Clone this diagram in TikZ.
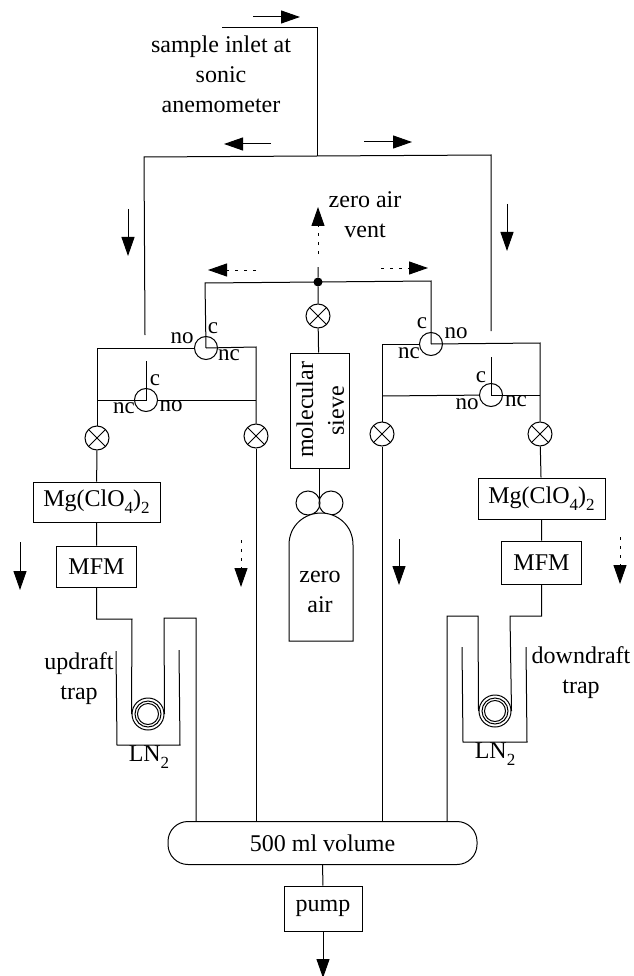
\documentclass[tikz,border=0pt]{standalone}
\usepackage{fontspec}
\setmainfont{Liberation Serif}
\usetikzlibrary{arrows.meta,positioning}
\newcommand{\lowsub}[1]{\raisebox{-0.3em}{\fontsize{17}{17}\selectfont #1}}
\tikzset{
  pipe/.style={line width=1pt},
  flow/.style={-{Triangle[length=19pt,width=13pt]}, line width=1pt},
  dotflow/.style={flow, dash pattern=on 3pt off 6pt},
  box/.style={
    rectangle, draw, line width=1pt, inner sep=0pt,
    font=\fontsize{24}{28}\selectfont
  },
  lab/.style={inner sep=0pt, align=center, font=\fontsize{24}{30}\selectfont},
  port/.style={inner sep=0pt, font=\fontsize{23}{24}\selectfont},
  xvalve/.style={
    circle, draw, line width=1pt, minimum size=24pt, inner sep=0pt,
    path picture={\draw[line width=1pt] (path picture bounding box.north west) -- (path picture bounding box.south east)
      (path picture bounding box.north east) -- (path picture bounding box.south west);}
  },
  switch/.style={circle, draw, line width=1pt, minimum size=23pt, inner sep=0pt},
  coil/.style={
    circle, draw, line width=1pt, minimum size=32pt, inner sep=0pt,
    path picture={\draw[line width=1pt] (path picture bounding box.center) circle (13pt) circle (10.5pt);}
  },
}
\begin{document}
\begin{tikzpicture}[x=1pt,y=-1pt]
\useasboundingbox (0,0) rectangle (633,976);
% --- Valves ---
\node[xvalve] (vZero) at (318,316) {};
\node[xvalve] (vLa) at (97,438) {};
\node[xvalve] (vLb) at (256,436) {};
\node[xvalve] (vRa) at (382,434) {};
\node[xvalve] (vRb) at (540,434) {};
\node[switch] (swLa) at (206,348) {};
\node[switch] (swLb) at (146,400) {};
\node[switch] (swRa) at (431,344) {};
\node[switch] (swRb) at (491,395) {};
% --- Boxes ---
\node[box, minimum width=127pt, minimum height=40pt] (mgL) at (96.5,502) {Mg(ClO\lowsub{4})\lowsub{2}};
\node[box, minimum width=80pt, minimum height=41pt, below=23pt of mgL] (mfmL) {MFM};
\node[box, minimum width=127pt, minimum height=41pt] (mgR) at (541.5,498.5) {Mg(ClO\lowsub{4})\lowsub{2}};
\node[box, minimum width=80pt, minimum height=43pt, below=21pt of mgR] (mfmR) {MFM};
\node[box, minimum width=59pt, minimum height=115pt] (sieve) at (319.5,410.5) {};
\node[lab, rotate=90] (molec) at (305,410) {molecular};
\node[lab, rotate=90] (sv) at (336,411) {sieve};
\node[box, minimum width=309pt, minimum height=43pt, rounded corners=20pt] (vol) at (322.5,843) {500 ml volume};
\node[box, minimum width=78pt, minimum height=45pt] (pump) at (323,908.5) {pump};
% --- Zero air bottle ---
\node[circle, draw, line width=1pt, minimum size=24pt, inner sep=0pt] (regL) at (308,503) {};
\node[circle, draw, line width=1pt, minimum size=24pt, inner sep=0pt] (regR) at (331,503) {};
\coordinate (regTop) at (319.5,500);
\draw[pipe] (sieve) -- (regTop);
\draw[pipe, fill=white] (289,641) -- (289,545) .. controls (289,525) and (305,513) .. (321,513)
  .. controls (337,513) and (353,525) .. (353,545) -- (353,641) -- cycle;
\node[lab] (zeroair) at (320,592) {zero\\air};
% --- Traps ---
\node[coil] (coilL) at (148,714) {};
\node[coil] (coilR) at (495,711) {};
\coordinate (dewLa) at (116,651); \coordinate (dewLb) at (117,745); \coordinate (dewLc) at (180,745); \coordinate (dewLd) at (179,650);
\coordinate (dewRa) at (462,647); \coordinate (dewRb) at (463,742); \coordinate (dewRc) at (527,742); \coordinate (dewRd) at (526,647);
\draw[pipe] (dewLa) -- (dewLb) -- (dewLc) -- (dewLd);
\draw[pipe] (dewRa) -- (dewRb) -- (dewRc) -- (dewRd);
% --- Inlet and main line ---
\coordinate (inA) at (222,28); \coordinate (inB) at (317,28); \coordinate (tee) at (317,156);
\coordinate (mainL) at (144,157); \coordinate (mainR) at (491,155);
\coordinate (endL) at (145,335); \coordinate (endR) at (491,331);
\coordinate (stubL) at (146,361); \coordinate (stubR) at (491,357);
\draw[pipe] (inA) -- (inB) -- (tee);
\draw[pipe] (endL) -- (mainL) -- (tee) -- (mainR) -- (endR);
% --- Zero air line ---
\node[circle, fill=black, inner sep=0pt, minimum size=9pt] (junc) at (318,282) {};
\coordinate (zeroL) at (205,283); \coordinate (zeroR) at (431,281); \coordinate (ventTop) at (318,267);
\draw[pipe] (swLa.center) -- (zeroL) -- (junc.center) -- (zeroR) -- (swRa.center);
\draw[pipe] (ventTop) -- (junc) -- (vZero) -- (sieve);
% --- Left switching loop ---
\coordinate (loopLa) at (97,348); \coordinate (loopLb) at (97,400); \coordinate (loopLc) at (256,347); \coordinate (loopLd) at (256,400);
\draw[pipe] (swLa) -- (loopLa) -- (vLa);
\draw[pipe] (swLa.center) -- (loopLc) -- (vLb);
\draw[pipe] (stubL) -- (swLb.center) -- (loopLb);
\draw[pipe] (swLb) -- (loopLd);
% --- Right switching loop ---
\coordinate (loopRa) at (382,344); \coordinate (loopRb) at (382,396); \coordinate (loopRc) at (540,343); \coordinate (loopRd) at (540,395);
\draw[pipe] (swRa) -- (loopRa) -- (vRa);
\draw[pipe] (swRa.center) -- (loopRc) -- (vRb);
\draw[pipe] (stubR) -- (swRb.center) -- (loopRd);
\draw[pipe] (swRb) -- (loopRb);
% --- Columns down to the volume ---
\coordinate (tubeLa) at (132,619); \coordinate (tubeLb) at (164,618); \coordinate (tubeLc) at (196,618);
\coordinate (tubeRa) at (510,616); \coordinate (tubeRb) at (478,616); \coordinate (tubeRc) at (447,616);
\draw[pipe] (vLa) -- (mgL) -- (mfmL);
\draw[pipe] (mfmL) |- (tubeLa) -- (coilL.west);
\draw[pipe] (coilL.east) -- (tubeLb) -- (tubeLc) -- (tubeLc |- vol.north);
\draw[pipe] (vRb) -- (mgR) -- (mfmR);
\draw[pipe] (mfmR) |- (tubeRa) -- (coilR.east);
\draw[pipe] (coilR.west) -- (tubeRb) -- (tubeRc) -- (tubeRc |- vol.north);
\draw[pipe] (vLb) -- (vLb |- vol.north);
\draw[pipe] (vRa) -- (vRa |- vol.north);
\coordinate (outEnd) at (323,978);
\draw[pipe] (vol) -- (pump);
\draw[flow] (pump) -- (outEnd);
% --- Flow marks ---
\coordinate (fa) at (253,17); \coordinate (fb) at (300,17);
\coordinate (fc) at (271,144); \coordinate (fd) at (224,144);
\coordinate (fe) at (364,142); \coordinate (ff) at (412,142);
\coordinate (fg) at (128,209); \coordinate (fh) at (128,256);
\coordinate (fi) at (507,204); \coordinate (fj) at (507,251);
\coordinate (fk) at (20,542); \coordinate (fl) at (20,590);
\coordinate (fm) at (399,539); \coordinate (fn) at (399,585);
\draw[flow] (fa) -- (fb);
\draw[flow] (fc) -- (fd);
\draw[flow] (fe) -- (ff);
\draw[flow] (fg) -- (fh);
\draw[flow] (fi) -- (fj);
\draw[flow] (fk) -- (fl);
\draw[flow] (fm) -- (fn);
\coordinate (da) at (318,254); \coordinate (db) at (318,207);
\coordinate (dc) at (256,270); \coordinate (dd) at (208,270);
\coordinate (de) at (381,268); \coordinate (df) at (428,268);
\coordinate (dg) at (241,540); \coordinate (dh) at (241,587);
\coordinate (di) at (620,537); \coordinate (dj) at (620,584);
\draw[dotflow] (da) -- (db);
\draw[dotflow] (dc) -- (dd);
\draw[dotflow] (de) -- (df);
\draw[dotflow] (dg) -- (dh);
\draw[dotflow] (di) -- (dj);
% --- Labels ---
\node[lab] (inletlab) at (221,74) {sample inlet at\\sonic\\anemometer};
\node[lab] (ventlab) at (365,215) {zero air\\vent};
\node[lab] (uplab) at (79,679) {updraft\\trap};
\node[lab] (downlab) at (581,673) {downdraft\\trap};
\node[lab] (lnL) at (149,757) {LN\lowsub{2}};
\node[lab] (lnR) at (495,754) {LN\lowsub{2}};
\node[port] (pLaC) at (213,328) {c};
\node[port] (pLaNo) at (182,338) {no};
\node[port] (pLaNc) at (229,355) {nc};
\node[port] (pLbC) at (155,380) {c};
\node[port] (pLbNc) at (124,408) {nc};
\node[port] (pLbNo) at (171,406) {no};
\node[port] (pRaC) at (422,323) {c};
\node[port] (pRaNo) at (456,333) {no};
\node[port] (pRaNc) at (409,353) {nc};
\node[port] (pRbC) at (481,377) {c};
\node[port] (pRbNo) at (467,404) {no};
\node[port] (pRbNc) at (516,401) {nc};
\end{tikzpicture}
\end{document}
